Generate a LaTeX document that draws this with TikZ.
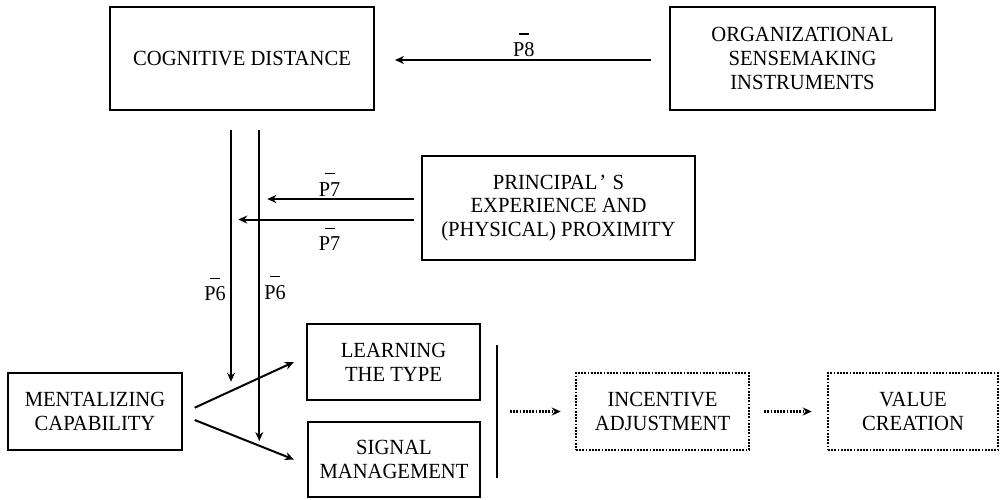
\documentclass[tikz,border=0pt]{standalone}
\usepackage{fontspec}
\setmainfont{Liberation Serif}[FakeStretch=0.955]
\usetikzlibrary{arrows.meta,calc}

% proposition label: number with a minus sign set above it
\newsavebox\proplabelbox
\newcommand\neglab[1]{\sbox\proplabelbox{#1}\rlap{\makebox[\wd\proplabelbox]{\raisebox{11pt}{\rule{5pt}{0.6pt}}}}\usebox\proplabelbox}

\tikzset{
  txt/.style={font=\fontsize{10.8}{11.9}\selectfont, align=center},
  box/.style={txt, draw, line width=1.1pt, inner sep=0pt},
  dotbox/.style={txt, draw, line width=1.25pt, inner sep=0pt, dash pattern=on 0.9pt off 0.7pt},
  arr/.style={line width=1pt, -{Stealth[length=4.5pt,width=4pt]}},
  dotarr/.style={line width=1.2pt, dash pattern=on 0.9pt off 0.7pt, -{Stealth[length=4.5pt,width=4pt]}},
  plabel/.style={font=\fontsize{10.6}{11.9}\selectfont, inner sep=0pt, anchor=base},
}

\begin{document}
\begin{tikzpicture}[x=0.5pt,y=-0.5pt]
\useasboundingbox (0,0) rectangle (1000,499);

% boxes
\node[box, minimum width=132pt, minimum height=51.5pt] (cog) at (242,58.5) {COGNITIVE DISTANCE};
\node[box, minimum width=132.5pt, minimum height=51.5pt] (org) at (802.5,58.5) {ORGANIZATIONAL\\SENSEMAKING\\INSTRUMENTS};
\node[box, minimum width=136.5pt, minimum height=52pt] (prin) at (558.5,208) {PRINCIPAL\kern0.08em’\kern0.3em S\\EXPERIENCE AND\\(PHYSICAL) PROXIMITY};
\node[box, minimum width=87pt, minimum height=38.5pt] (ment) at (95,411.5) {MENTALIZING\\CAPABILITY};
\node[box, minimum width=86.5pt, minimum height=38pt] (learn) at (393.5,362) {LEARNING\\THE TYPE};
\node[box, minimum width=86pt, minimum height=37.5pt] (sig) at (394,459.5) {SIGNAL\\MANAGEMENT};
\node[dotbox, minimum width=86.5pt, minimum height=38.5pt] (inc) at (662.5,411.5) {INCENTIVE\\ADJUSTMENT};
\node[dotbox, minimum width=85pt, minimum height=38.5pt] (val) at (913,411.5) {VALUE\\CREATION};

% free ends of the moderating arrows
\coordinate (p8) at (395,60);
\coordinate (p7up) at (267.3,199);
\coordinate (p7lo) at (238.3,219.5);
\coordinate (p6l) at (231,381.7);
\coordinate (p6r) at (259.3,441);

% P8
\draw[arr] ($(org.west |- p8)+(-18,0)$) -- (p8);
\node[plabel] (l8) at (523.8,56.5) {\neglab{P8}};

% P7
\draw[arr] ($(prin.west |- p7up)+(-7,0)$) -- (p7up);
\draw[arr] ($(prin.west |- p7lo)+(-7,0)$) -- (p7lo);
\node[plabel] (l7a) at (329.5,196) {\neglab{P7}};
\node[plabel] (l7b) at (329.5,250.7) {\neglab{P7}};

% P6
\draw[arr] (cog.south -| p6l) ++(0,19) -- (p6l);
\draw[arr] (cog.south -| p6r) ++(0,19) -- (p6r);
\node[plabel] (l6a) at (215,300.7) {\neglab{P6}};
\node[plabel] (l6b) at (275,299.3) {\neglab{P6}};

% mentalizing capability effects
\draw[arr] ($(ment.east)+(11.6,-3.8)$) -- ($(learn.west)+(-12,0)$);
\draw[arr] ($(ment.east)+(11.6,8.5)$) -- ($(sig.west)+(-13,0)$);

% separator bar and outcome chain
\coordinate (bartop) at (497,345);
\coordinate (barbot) at (497,478);
\draw[line width=1.1pt] (bartop) -- (barbot);
\draw[dotarr] ($(bartop |- inc.west)+(13,0)$) -- ($(inc.west)+(-14,0)$);
\draw[dotarr] ($(inc.east)+(14,0)$) -- ($(val.west)+(-15,0)$);
\end{tikzpicture}
\end{document}
